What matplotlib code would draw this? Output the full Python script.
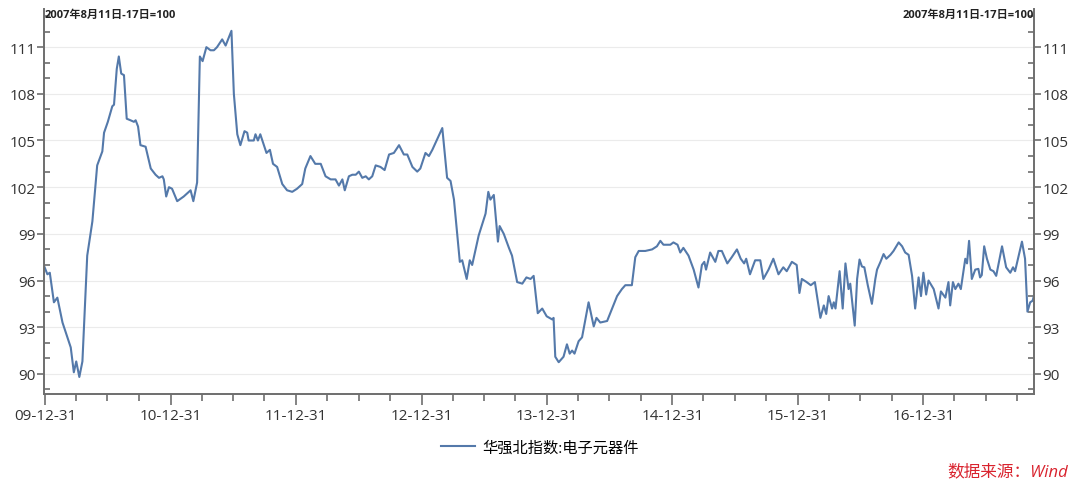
import numpy as np
import pandas as pd
import matplotlib
matplotlib.use("Agg")
import matplotlib.pyplot as plt
import matplotlib.dates as mdates
from matplotlib.ticker import MultipleLocator

plt.rcParams['font.family'] = ['Open Sans', 'Noto Sans CJK SC', 'DejaVu Sans']

# ---------------------------------------------------------------------
# dados
# ---------------------------------------------------------------------
datas = [
    "2009-12-28", "2010-01-06", "2010-01-13", "2010-01-25", "2010-02-04", "2010-02-19",
    "2010-03-15", "2010-03-24", "2010-03-31", "2010-04-09", "2010-04-18", "2010-05-02",
    "2010-05-17", "2010-05-31", "2010-06-15", "2010-06-20", "2010-07-01", "2010-07-14",
    "2010-07-19", "2010-07-27", "2010-08-02", "2010-08-09", "2010-08-17", "2010-08-25",
    "2010-09-05", "2010-09-15", "2010-09-20", "2010-09-27", "2010-10-04", "2010-10-19",
    "2010-11-03", "2010-11-17", "2010-11-27", "2010-12-07", "2010-12-11", "2010-12-18",
    "2010-12-26", "2011-01-04", "2011-01-19", "2011-02-07", "2011-02-27", "2011-03-07",
    "2011-03-18", "2011-03-26", "2011-04-03", "2011-04-14", "2011-04-26", "2011-05-06",
    "2011-05-15", "2011-05-30", "2011-06-09", "2011-06-26", "2011-07-03", "2011-07-13",
    "2011-07-22", "2011-08-03", "2011-08-11", "2011-08-15", "2011-08-30", "2011-09-04",
    "2011-09-11", "2011-09-18", "2011-10-06", "2011-10-16", "2011-10-25", "2011-11-06",
    "2011-11-21", "2011-12-05", "2011-12-20", "2012-01-03", "2012-01-18", "2012-01-27",
    "2012-02-11", "2012-02-25", "2012-03-12", "2012-03-26", "2012-04-10", "2012-04-24",
    "2012-05-04", "2012-05-14", "2012-05-21", "2012-06-02", "2012-06-12", "2012-06-22",
    "2012-07-01", "2012-07-11", "2012-07-21", "2012-07-30", "2012-08-09", "2012-08-19",
    "2012-09-02", "2012-09-14", "2012-09-27", "2012-10-11", "2012-10-26", "2012-11-09",
    "2012-11-19", "2012-12-04", "2012-12-18", "2012-12-27", "2013-01-11", "2013-01-21",
    "2013-01-31", "2013-03-01", "2013-03-15", "2013-03-25", "2013-04-04", "2013-04-21",
    "2013-04-28", "2013-05-11", "2013-05-20", "2013-05-27", "2013-06-15", "2013-07-05",
    "2013-07-13", "2013-07-19", "2013-07-29", "2013-08-10", "2013-08-15", "2013-08-27",
    "2013-09-11", "2013-09-20", "2013-10-05", "2013-10-20", "2013-11-01", "2013-11-13",
    "2013-11-22", "2013-12-04", "2013-12-17", "2013-12-30", "2014-01-15", "2014-01-19",
    "2014-01-24", "2014-02-03", "2014-02-17", "2014-02-27", "2014-03-07", "2014-03-14",
    "2014-03-21", "2014-04-02", "2014-04-12", "2014-05-01", "2014-05-16", "2014-05-24",
    "2014-06-04", "2014-06-24", "2014-07-23", "2014-08-06", "2014-08-16", "2014-09-04",
    "2014-09-14", "2014-09-24", "2014-10-13", "2014-11-02", "2014-11-16", "2014-11-26",
    "2014-12-05", "2014-12-25", "2015-01-03", "2015-01-15", "2015-01-23", "2015-02-01",
    "2015-02-16", "2015-03-03", "2015-03-17", "2015-03-27", "2015-04-03", "2015-04-08",
    "2015-04-20", "2015-05-05", "2015-05-14", "2015-05-24", "2015-06-09", "2015-06-22",
    "2015-07-07", "2015-07-18", "2015-07-28", "2015-08-03", "2015-08-14", "2015-08-29",
    "2015-09-13", "2015-09-22", "2015-10-07", "2015-10-21", "2015-11-05", "2015-11-19",
    "2015-11-29", "2015-12-14", "2015-12-28", "2016-01-05", "2016-01-12", "2016-01-26",
    "2016-02-07", "2016-02-19", "2016-03-06", "2016-03-16", "2016-03-23", "2016-03-30",
    "2016-04-09", "2016-04-14", "2016-04-19", "2016-05-01", "2016-05-10", "2016-05-18",
    "2016-05-27", "2016-06-01", "2016-06-14", "2016-06-21", "2016-06-28", "2016-07-05",
    "2016-07-12", "2016-07-22", "2016-08-03", "2016-08-13", "2016-08-18", "2016-08-28",
    "2016-09-06", "2016-09-14", "2016-09-26", "2016-10-05", "2016-10-20", "2016-10-30",
    "2016-11-08", "2016-11-18", "2016-11-28", "2016-12-07", "2016-12-17", "2016-12-24",
    "2016-12-31", "2017-01-08", "2017-01-15", "2017-01-30", "2017-02-13", "2017-02-20",
    "2017-03-05", "2017-03-14", "2017-03-19", "2017-03-27", "2017-04-03", "2017-04-12",
    "2017-04-19", "2017-05-02", "2017-05-07", "2017-05-13", "2017-05-21", "2017-05-31",
    "2017-06-09", "2017-06-14", "2017-06-19", "2017-06-26", "2017-07-04", "2017-07-14",
    "2017-07-23", "2017-07-31", "2017-08-17", "2017-08-29", "2017-09-10", "2017-09-18",
    "2017-09-24", "2017-10-14", "2017-10-23", "2017-10-30", "2017-11-07", "2017-11-14",
    "2017-11-19",
]

indice = [
    96.9, 96.4, 96.5, 94.6, 94.9, 93.3,
    91.7, 90.1, 90.8, 89.8, 90.8, 97.6,
    99.8, 103.4, 104.3, 105.5, 106.2, 107.2,
    107.3, 109.6, 110.4, 109.3, 109.2, 106.4,
    106.3, 106.2, 106.3, 105.9, 104.7, 104.6,
    103.2, 102.8, 102.6, 102.7, 102.5, 101.4,
    102.0, 101.9, 101.1, 101.4, 101.8, 101.1,
    102.3, 110.4, 110.1, 111.0, 110.8, 110.8,
    111.0, 111.5, 111.1, 112.05, 108.0, 105.4,
    104.7, 105.6, 105.5, 105.0, 105.0, 105.4,
    105.0, 105.4, 104.2, 104.4, 103.5, 103.3,
    102.2, 101.8, 101.7, 101.9, 102.2, 103.2,
    104.0, 103.5, 103.5, 102.7, 102.5, 102.5,
    102.1, 102.5, 101.8, 102.7, 102.8, 102.8,
    103.0, 102.6, 102.7, 102.5, 102.7, 103.4,
    103.3, 103.1, 104.1, 104.2, 104.7, 104.1,
    104.1, 103.3, 103.0, 103.2, 104.2, 104.0,
    104.4, 105.8, 102.6, 102.4, 101.2, 97.2,
    97.3, 96.1, 97.3, 97.0, 98.9, 100.3,
    101.7, 101.2, 101.5, 98.5, 99.5, 99.0,
    98.1, 97.6, 95.9, 95.8, 96.2, 96.1,
    96.3, 93.9, 94.2, 93.7, 93.5, 93.6,
    91.1, 90.75, 91.1, 91.9, 91.3, 91.5,
    91.3, 92.1, 92.35, 94.6, 93.05, 93.6,
    93.3, 93.4, 95.0, 95.45, 95.7, 95.7,
    97.5, 97.9, 97.9, 98.0, 98.2, 98.55,
    98.3, 98.3, 98.45, 98.3, 97.8, 98.1,
    97.6, 96.7, 95.55, 97.0, 97.2, 96.7,
    97.8, 97.2, 97.9, 97.9, 97.1, 97.5,
    98.0, 97.4, 97.1, 97.4, 96.4, 97.3,
    97.3, 96.1, 96.7, 97.4, 96.4, 96.85,
    96.6, 97.2, 97.0, 95.2, 96.1, 95.9,
    95.7, 95.9, 93.6, 94.4, 93.85, 95.0,
    94.2, 94.6, 94.2, 96.6, 94.2, 97.1,
    95.45, 95.8, 93.1, 96.1, 97.35, 96.9,
    96.85, 95.7, 94.5, 96.1, 96.7, 97.2,
    97.7, 97.4, 97.65, 97.9, 98.45, 98.2,
    97.8, 97.65, 96.3, 94.2, 96.2, 95.0,
    96.5, 95.1, 96.0, 95.45, 94.2, 95.3,
    94.9, 95.9, 94.4, 95.9, 95.45, 95.8,
    95.45, 97.4, 97.1, 98.55, 96.1, 96.7,
    96.75, 96.2, 96.35, 98.2, 97.4, 96.7,
    96.6, 96.3, 98.2, 96.85, 96.5, 96.85,
    96.6, 98.5, 97.4, 94.0, 94.6, 94.7,
    95.1,
]

serie_nome = "华强北指数:电子元器件"
nota_base = "2007年8月11日-17日=100"
fonte = "数据来源：Wind"
y_ticks = [90, 93, 96, 99, 102, 105, 108, 111]

AZUL = "#5479AA"
CINZA = "#6E6E6E"

datas = pd.to_datetime(datas)

fig = plt.figure(figsize=(10.8, 4.85), dpi=100)
ax = fig.add_axes([0.0407, 0.186, 0.917, 0.793])

ax.plot(datas, indice, color=AZUL, lw=1.5, label=serie_nome)

ax.set_ylim(88.72, 113.44)
ax.set_xlim(pd.Timestamp("2009-12-27"), pd.Timestamp("2017-11-19"))

ax.set_yticks(y_ticks)
ax.yaxis.set_minor_locator(MultipleLocator(1))
ax.grid(axis="y", which="major", color="#ebebeb", lw=0.8)
ax.set_axisbelow(True)

# eixo x: rotulo no fim de cada ano, marcas menores por trimestre
ax.xaxis.set_major_locator(mdates.MonthLocator(bymonth=12, bymonthday=31))
ax.xaxis.set_minor_locator(mdates.MonthLocator(bymonth=(3, 6, 9, 12), bymonthday=-1))
ax.xaxis.set_major_formatter(mdates.DateFormatter("%y-%m-%d"))

ax.spines["top"].set_visible(False)
for lado in ("left", "right", "bottom"):
    ax.spines[lado].set_color(CINZA)
    ax.spines[lado].set_linewidth(1.4)

ax.tick_params(axis="y", which="major", direction="out", length=5, width=1.2,
               color=CINZA, labelsize=11, labelcolor="#333333",
               left=True, right=True, labelleft=True, labelright=True, pad=1)
ax.tick_params(axis="y", which="minor", direction="in", length=4, width=1.2,
               color=CINZA, left=True, right=True)
ax.tick_params(axis="x", which="major", direction="out", length=8, width=1.2,
               color=CINZA, labelsize=11, labelcolor="#333333", pad=2)
ax.tick_params(axis="x", which="minor", direction="out", length=5, width=1.2,
               color=CINZA)

ax.text(0.001, 1.0, nota_base, transform=ax.transAxes, ha="left", va="top",
        fontsize=8, fontweight="bold", color="#222222")
ax.text(1.0, 1.0, nota_base, transform=ax.transAxes, ha="right", va="top",
        fontsize=8, fontweight="bold", color="#222222")

fig.legend(loc="center", bbox_to_anchor=(0.5, 0.074), frameon=False,
           fontsize=11, handlelength=2.2, handletextpad=0.5)

fig.text(0.989, 0.01, fonte, ha="right", va="bottom", color="#D9232E",
         fontsize=12, style="italic")

fig.savefig("out.png", dpi=100)
plt.close(fig)
